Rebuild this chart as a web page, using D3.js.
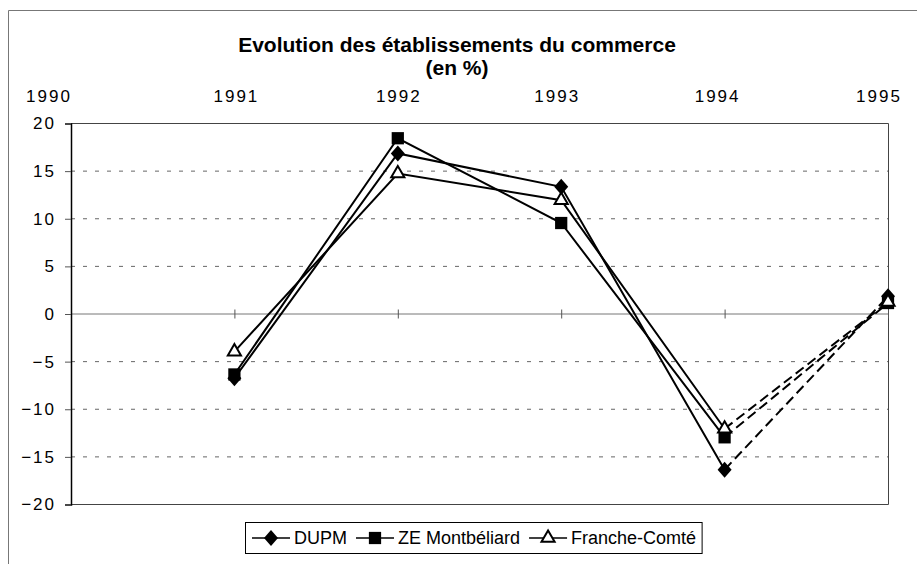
<!DOCTYPE html>
<html>
<head>
<meta charset="utf-8">
<script src="https://cdn.jsdelivr.net/npm/d3@7"></script>
<style>
  html, body { margin: 0; padding: 0; background: #fff; }
  svg { display: block; }
  text { font-family: "Liberation Sans", Arial, sans-serif; fill: #000; }
</style>
</head>
<body>
<svg id="chart" width="917" height="564"></svg>
<script>
const years = [1991, 1992, 1993, 1994, 1995];
const yearLabels = ["1990", "1991", "1992", "1993", "1994", "1995"];
const dupm = [-6.8, 16.8, 13.3, -16.4, 1.8];
const zeMontbeliard = [-6.4, 18.4, 9.5, -13.0, 1.1];
const francheComte = [-4.0, 14.7, 11.9, -12.1, 1.2];
const yTicks = [-20, -15, -10, -5, 0, 5, 10, 15, 20];
const seriesNames = ["DUPM", "ZE Montbéliard", "Franche-Comté"];
const titleLines = ["Evolution des établissements du commerce", "(en %)"];

const series = [
  { name: seriesNames[0], values: dupm, symbol: "diamond" },
  { name: seriesNames[1], values: zeMontbeliard, symbol: "square" },
  { name: seriesNames[2], values: francheComte, symbol: "triangle" }
];

const svg = d3.select("#chart");
const x = d3.scaleLinear().domain([1990, 1995]).range([71, 888]);
const y = d3.scaleLinear().domain([-20, 20]).range([504, 123]);

// outer frame
svg.append("path").attr("d", "M8.5,564 L8.5,10.5 L917,10.5")
  .attr("fill", "none").attr("stroke", "#777").attr("stroke-width", 1);

// title
svg.append("text").attr("x", 457).attr("y", 52).attr("text-anchor", "middle")
  .style("font-weight", "bold").style("font-size", "21px").text(titleLines[0]);
svg.append("text").attr("x", 457).attr("y", 75).attr("text-anchor", "middle")
  .style("font-weight", "bold").style("font-size", "21px").text(titleLines[1]);

// top year labels
const labelOffsets = [-22, 2, 1, -4, -7, -9];
svg.append("g").selectAll("text").data(yearLabels).join("text")
  .attr("x", (d, i) => x(+d) + labelOffsets[i])
  .attr("y", 102)
  .attr("text-anchor", "middle")
  .style("font-size", "17px").style("letter-spacing", "2px")
  .text(d => d);

// gridlines
svg.append("g").selectAll("line").data(yTicks.filter(v => v !== 0 && Math.abs(v) !== 20)).join("line")
  .attr("x1", x(1990)).attr("x2", x(1995))
  .attr("y1", d => y(d) + 0.5).attr("y2", d => y(d) + 0.5)
  .attr("stroke", "#666").attr("stroke-width", 1).attr("stroke-dasharray", "4,8");

// plot border (top, right, bottom)
svg.append("path")
  .attr("d", `M${x(1990)},${y(20) + 0.5} L${x(1995) + 0.5},${y(20) + 0.5} L${x(1995) + 0.5},${y(-20) + 0.5} L${x(1990)},${y(-20) + 0.5}`)
  .attr("fill", "none").attr("stroke", "#444").attr("stroke-width", 1);

// zero line (category axis)
svg.append("line").attr("x1", x(1990)).attr("x2", x(1995))
  .attr("y1", y(0) + 0.5).attr("y2", y(0) + 0.5)
  .attr("stroke", "#777").attr("stroke-width", 1);
svg.append("g").selectAll("line").data(years).join("line")
  .attr("x1", d => x(d) + 0.5).attr("x2", d => x(d) + 0.5)
  .attr("y1", y(0) - 4).attr("y2", y(0) + 5)
  .attr("stroke", "#555").attr("stroke-width", 1);

// y axis
const yAxis = d3.axisLeft(y).tickValues(yTicks).tickSize(6).tickPadding(9).tickFormat(d3.format("d"));
const yg = svg.append("g").attr("transform", `translate(${x(1990)},0.5)`).call(yAxis);
yg.select(".domain").attr("stroke", "#000").attr("stroke-width", 1.5);
yg.selectAll(".tick line").attr("stroke", "#555");
yg.selectAll(".tick text").style("font-size", "17px").style("letter-spacing", "2px")
  .style("font-family", "Liberation Sans, Arial, sans-serif").attr("fill", "#000");

// series lines
const g = svg.append("g");
series.forEach(s => {
  const pts = years.map((yr, i) => [x(yr), y(s.values[i])]);
  const line = d3.line();
  g.append("path").attr("d", line(pts.slice(0, 4)))
    .attr("fill", "none").attr("stroke", "#000").attr("stroke-width", 2);
  g.append("path").attr("d", line(pts.slice(3, 5)))
    .attr("fill", "none").attr("stroke", "#000").attr("stroke-width", 2)
    .attr("stroke-dasharray", "10,5");
});

function drawSymbol(sel, type, cx, cy) {
  if (type === "diamond") {
    sel.append("path").attr("d", "M0,-8L7,0L0,8L-7,0Z")
      .attr("transform", `translate(${cx},${cy})`)
      .attr("fill", "#000");
  } else if (type === "square") {
    sel.append("path").attr("d", d3.symbol(d3.symbolSquare, 150)())
      .attr("transform", `translate(${cx},${cy})`).attr("fill", "#000");
  } else {
    sel.append("path").attr("d", d3.symbol(d3.symbolTriangle, 75)())
      .attr("transform", `translate(${cx},${cy})`)
      .attr("fill", "#fff").attr("stroke", "#000").attr("stroke-width", 2);
  }
}

// markers
series.forEach(s => {
  years.forEach((yr, i) => drawSymbol(g, s.symbol, x(yr), y(s.values[i])));
});

// legend
const lg = svg.append("g");
const box = lg.append("rect").attr("x", 245.5).attr("y", 522.5).attr("height", 31)
  .attr("fill", "#fff").attr("stroke", "#000").attr("stroke-width", 1);
let cx = 252;
series.forEach(s => {
  lg.append("line").attr("x1", cx).attr("x2", cx + 38).attr("y1", 538).attr("y2", 538)
    .attr("stroke", "#000").attr("stroke-width", 1.5);
  drawSymbol(lg, s.symbol, cx + 19, 538);
  const t = lg.append("text").attr("x", cx + 42).attr("y", 544)
    .style("font-size", "18px").text(s.name);
  cx += 42 + t.node().getComputedTextLength() + 9;
});
box.attr("width", cx - 245.5 - 3);
</script>
</body>
</html>
